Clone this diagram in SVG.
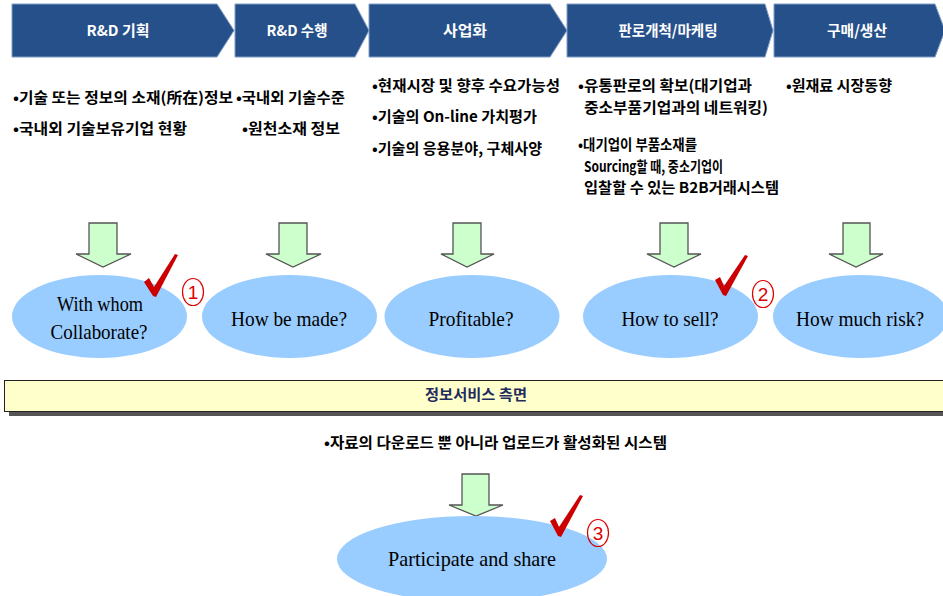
<svg xmlns="http://www.w3.org/2000/svg" width="943" height="596" viewBox="0 0 943 596">
<style>
.hdr{fill:#26508a;stroke:#7f9cc4;stroke-width:1}
.ht{font-family:"Noto Sans CJK KR","Liberation Sans",sans-serif;font-weight:bold;font-size:15px;fill:#fff;text-anchor:middle}
.bt{font-family:"Noto Sans CJK KR","Liberation Sans",sans-serif;font-weight:bold;font-size:15px;fill:#000}
.arr{fill:#ccffcc;stroke:#555;stroke-width:1.3}
.ell{fill:#99ccff}
.et{font-family:"Liberation Serif",serif;font-size:22px;fill:#000;text-anchor:middle}
.chk{fill:#cc0000}
.num{fill:none;stroke:#dd0000;stroke-width:1.2}
.nt{font-family:"Liberation Sans",sans-serif;font-size:19px;fill:#dd0000;text-anchor:middle}
</style>
<rect width="943" height="596" fill="#fff"/>
<g id="stages">
<g id="stage1"><path class="hdr" d="M12,4 H217 L234,30.5 L217,57 H12 Z"/><text class="ht" x="118" y="36" textLength="63" lengthAdjust="spacingAndGlyphs">R&amp;D 기획</text></g>
<g id="stage2"><path class="hdr" d="M235,4 H355 L369,30.5 L355,57 H235 Z"/><text class="ht" x="297" y="36" textLength="61" lengthAdjust="spacingAndGlyphs">R&amp;D 수행</text></g>
<g id="stage3"><path class="hdr" d="M369,4 H550 L567,30.5 L550,57 H369 Z"/><text class="ht" x="465" y="36" textLength="44" lengthAdjust="spacingAndGlyphs">사업화</text></g>
<g id="stage4"><path class="hdr" d="M567,4 H765 L773,30.5 L765,57 H567 Z"/><text class="ht" x="668" y="36" textLength="99" lengthAdjust="spacingAndGlyphs">판로개척/마케팅</text></g>
<g id="stage5"><path class="hdr" d="M774,4 H935 L945,30.5 L935,57 H774 Z"/><text class="ht" x="857" y="36" textLength="60" lengthAdjust="spacingAndGlyphs">구매/생산</text></g>
</g>
<g id="bullets">
<text class="bt" x="13" y="103" textLength="220" lengthAdjust="spacingAndGlyphs">•기술 또는 정보의 소재(所在)정보</text>
<text class="bt" x="13" y="134" textLength="174" lengthAdjust="spacingAndGlyphs">•국내외 기술보유기업 현황</text>
<text class="bt" x="236" y="103" textLength="109" lengthAdjust="spacingAndGlyphs">•국내외 기술수준</text>
<text class="bt" x="242" y="134" textLength="98" lengthAdjust="spacingAndGlyphs">•원천소재 정보</text>
<text class="bt" x="372" y="91" textLength="188" lengthAdjust="spacingAndGlyphs">•현재시장 및 향후 수요가능성</text>
<text class="bt" x="372" y="122" textLength="165" lengthAdjust="spacingAndGlyphs">•기술의 On-line 가치평가</text>
<text class="bt" x="372" y="154" textLength="170" lengthAdjust="spacingAndGlyphs">•기술의 응용분야, 구체사양</text>
<text class="bt" x="578" y="91" textLength="174" lengthAdjust="spacingAndGlyphs">•유통판로의 확보(대기업과</text>
<text class="bt" x="584" y="113" textLength="184" lengthAdjust="spacingAndGlyphs">중소부품기업과의 네트워킹)</text>
<text class="bt" x="578" y="150" textLength="119" lengthAdjust="spacingAndGlyphs">•대기업이 부품소재를</text>
<text class="bt" x="584" y="172" textLength="139" lengthAdjust="spacingAndGlyphs">Sourcing할 때, 중소기업이</text>
<text class="bt" x="584" y="193" textLength="195" lengthAdjust="spacingAndGlyphs">입찰할 수 있는 B2B거래시스템</text>
<text class="bt" x="786" y="91" textLength="106" lengthAdjust="spacingAndGlyphs">•원재료 시장동향</text>
</g>
<g id="connectors">
<path class="arr" d="M89,223 H117 V254 H131 L103,267 L76,254 H89 Z"/>
<path class="arr" d="M279,223 H307 V254 H321 L293,267 L266,254 H279 Z"/>
<path class="arr" d="M453,223 H481 V254 H494 L467,267 L441,254 H453 Z"/>
<path class="arr" d="M660,223 H688 V254 H701 L674,267 L647,254 H660 Z"/>
<path class="arr" d="M843,223 H870 V254 H883 L856,267 L829,254 H843 Z"/>
<path class="arr" d="M462,474 H489 V505 H503 L476,516 L449,505 H462 Z"/>
</g>
<g id="q1"><ellipse class="ell" cx="99.5" cy="316.5" rx="87.5" ry="41.5"/><text class="et" x="100" y="311" textLength="86" lengthAdjust="spacingAndGlyphs">With whom</text><text class="et" x="99" y="339" textLength="97" lengthAdjust="spacingAndGlyphs">Collaborate?</text></g>
<g id="q2"><ellipse class="ell" cx="289.5" cy="316.5" rx="87.5" ry="41.5"/><text class="et" x="289" y="326" textLength="116" lengthAdjust="spacingAndGlyphs">How  be made?</text></g>
<g id="q3"><ellipse class="ell" cx="472" cy="316.5" rx="87.5" ry="41.5"/><text class="et" x="471" y="326" textLength="85" lengthAdjust="spacingAndGlyphs">Profitable?</text></g>
<g id="q4"><ellipse class="ell" cx="670.5" cy="316.5" rx="87.5" ry="41.5"/><text class="et" x="670" y="326" textLength="97" lengthAdjust="spacingAndGlyphs">How  to sell?</text></g>
<g id="q5"><ellipse class="ell" cx="860.5" cy="316.5" rx="87.5" ry="41.5"/><text class="et" x="860" y="326" textLength="128" lengthAdjust="spacingAndGlyphs">How  much risk?</text></g>
<g id="band">
<rect x="9" y="384" width="940" height="32" fill="#555"/>
<rect x="4.5" y="380.5" width="941" height="31" fill="#ffffcc" stroke="#222" stroke-width="1"/>
<text class="bt" x="476" y="400" text-anchor="middle" fill="#1f2d5c" style="fill:#1f2d5c" textLength="102" lengthAdjust="spacingAndGlyphs">정보서비스 측면</text>
</g>
<text class="bt" x="324" y="448" textLength="343" lengthAdjust="spacingAndGlyphs">•자료의 다운로드 뿐 아니라 업로드가 활성화된 시스템</text>
<g id="q6"><ellipse class="ell" cx="472" cy="559" rx="135" ry="43"/><text class="et" x="472" y="566" textLength="168" lengthAdjust="spacingAndGlyphs">Participate and share</text></g>
<g id="marks">
<path class="chk" d="M144,282 L149,278 L154,287 L175,254 L178,255 L156,297 L153,296 Z"/>
<path class="chk" d="M715,280 L720,277 L724,286 L745,255 L748,256 L726,296 L723,295 Z"/>
<path class="chk" d="M550,521 L555,518 L559,527 L580,495 L583,496 L561,537 L558,536 Z"/>
<ellipse class="num" cx="193" cy="292" rx="10.5" ry="13.5"/><text class="nt" x="193" y="299">1</text>
<ellipse class="num" cx="763" cy="294" rx="10.5" ry="13.5"/><text class="nt" x="763" y="301">2</text>
<ellipse class="num" cx="598" cy="533" rx="10.5" ry="13.5"/><text class="nt" x="598" y="540">3</text>
</g>
</svg>
